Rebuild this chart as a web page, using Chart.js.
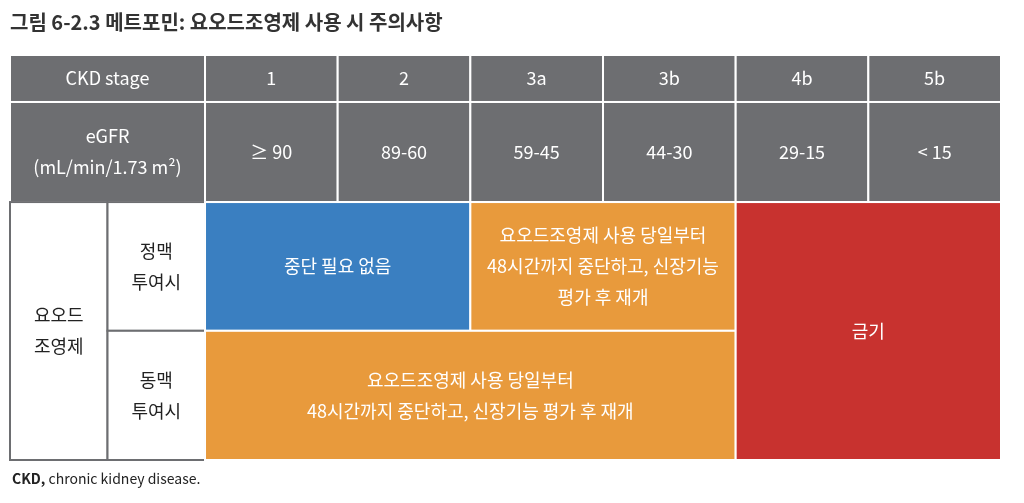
<!DOCTYPE html>
<html><head><meta charset="utf-8">
<script src="https://cdn.jsdelivr.net/npm/chart.js@4"></script>
<style>html,body{margin:0;padding:0;background:#fff}#w{width:1024px;height:503px}</style>
</head><body><div id="w"><canvas id="c"></canvas></div>
<script>
const titleText = "그림 6-2.3 메트포민: 요오드조영제 사용 시 주의사항";
const stages = ["1","2","3a","3b","4b","5b"];
const egfr = ["≥ 90","89-60","59-45","44-30","29-15","< 15"];
const colEdges = [-1.47,-0.735,0,1,2,3,4,5,6];
const rowEdges = [0,1,3.13,5.87,8.62];
const GRAY="#6d6e71", BLUE="#3a7fc1", ORANGE="#e89a3c", RED="#c8322f";
// cells: [x0,x1,y0,y1,fill,text lines,border]
const cells = [];
cells.push([-1.47,0,0,1,GRAY,["CKD stage"]]);
cells.push([-1.47,0,1,3.13,GRAY,["eGFR","(mL/min/1.73 m²)"]]);
stages.forEach((s,i)=>cells.push([i,i+1,0,1,GRAY,[s]]));
egfr.forEach((s,i)=>cells.push([i,i+1,1,3.13,GRAY,[s]]));
cells.push([-1.47,-0.735,3.13,8.62,"#fff",["요오드","조영제"],1]);
cells.push([-0.735,0,3.13,5.87,"#fff",["정맥","투여시"],1]);
cells.push([-0.735,0,5.87,8.62,"#fff",["동맥","투여시"],1]);
cells.push([0,2,3.13,5.87,BLUE,["중단 필요 없음"]]);
cells.push([2,4,3.13,5.87,ORANGE,["요오드조영제 사용 당일부터","48시간까지 중단하고, 신장기능","평가 후 재개"]]);
cells.push([0,4,5.87,8.62,ORANGE,["요오드조영제 사용 당일부터","48시간까지 중단하고, 신장기능 평가 후 재개"]]);
cells.push([4,6,3.13,8.62,RED,["금기"]]);
const F="'Noto Sans CJK KR','Noto Sans',sans-serif";
const tablePlugin={id:'tbl',afterDatasetsDraw(ch){
  const ctx=ch.ctx,x=ch.scales.x,y=ch.scales.y;
  ctx.save();
  cells.forEach(c=>{
    const l=x.getPixelForValue(c[0]),r=x.getPixelForValue(c[1]),t=y.getPixelForValue(c[2]),b=y.getPixelForValue(c[3]);
    ctx.fillStyle=c[4];ctx.fillRect(l,t,r-l,b-t);
    ctx.lineWidth=2;ctx.strokeStyle=c[6]?GRAY:"#fff";ctx.strokeRect(l,t,r-l,b-t);
    ctx.fillStyle=c[6]?"#222":"#fff";ctx.font="18px "+F;ctx.textAlign="center";ctx.textBaseline="middle";
    const n=c[5].length,lh=31,cy=(t+b)/2;
    c[5].forEach((s,i)=>ctx.fillText(s,(l+r)/2,cy+(i-(n-1)/2)*lh));
  });
  ctx.textAlign="left";ctx.textBaseline="alphabetic";ctx.fillStyle="#333";
  ctx.font="bold 20px "+F;ctx.fillText(titleText,10,30);
  ctx.font="bold 14px "+F;ctx.fillStyle="#222";ctx.fillText("CKD,",12,484);
  const w=ctx.measureText("CKD, ").width;
  ctx.font="14px "+F;ctx.fillText("chronic kidney disease.",12+w,484);
  ctx.restore();
}};
new Chart(document.getElementById('c'),{
  type:'scatter',
  data:{datasets:[{data:[{x:-1.47,y:0},{x:6,y:8.62}],pointRadius:0,showLine:false}]},
  options:{responsive:true,maintainAspectRatio:false,animation:false,
    layout:{padding:{left:10,top:55,right:23,bottom:43}},
    plugins:{legend:{display:false},tooltip:{enabled:false}},
    scales:{x:{type:'linear',min:-1.47,max:6,display:false},
            y:{type:'linear',min:0,max:8.62,reverse:true,display:false}}},
  plugins:[tablePlugin]
});
</script></body></html>
